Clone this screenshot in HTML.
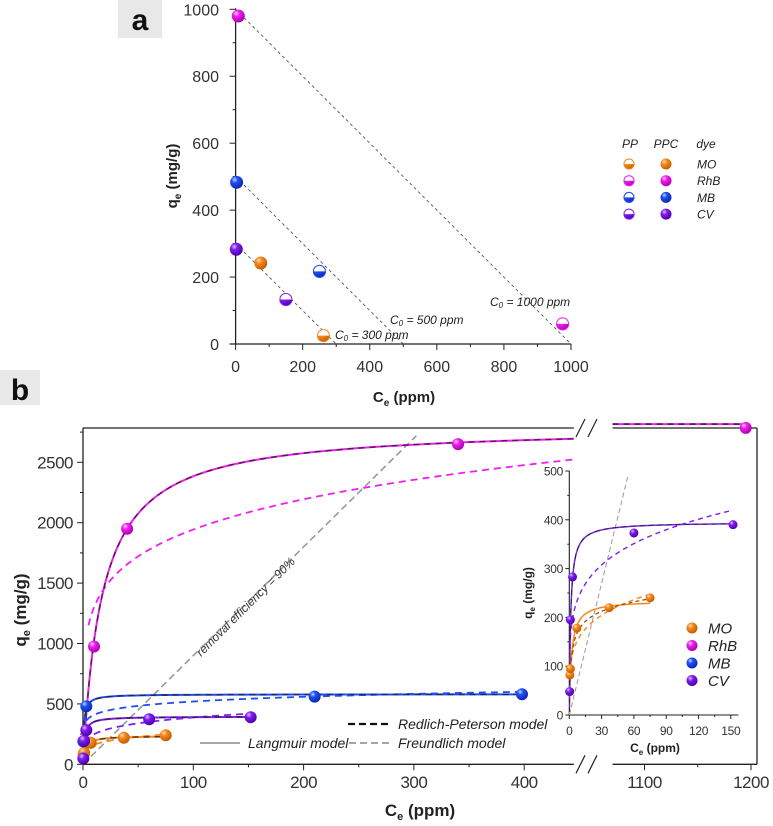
<!DOCTYPE html>
<html><head><meta charset="utf-8"><style>
html,body{margin:0;padding:0;background:#fff;}
svg{display:block;font-family:"Liberation Sans",sans-serif;}
</style></head><body>
<svg id="c" width="773" height="826" viewBox="0 0 773 826" xmlns="http://www.w3.org/2000/svg">
<defs>
<radialGradient id="g-MO" cx="35%" cy="30%" r="70%"><stop offset="0" stop-color="#ffe0bf"/><stop offset="0.35" stop-color="#f7891f"/><stop offset="1" stop-color="#c25e00"/></radialGradient>
<radialGradient id="g-RhB" cx="35%" cy="30%" r="70%"><stop offset="0" stop-color="#ffd0ff"/><stop offset="0.35" stop-color="#f01ff0"/><stop offset="1" stop-color="#b000b0"/></radialGradient>
<radialGradient id="g-MB" cx="35%" cy="30%" r="70%"><stop offset="0" stop-color="#c8d4ff"/><stop offset="0.35" stop-color="#1f4ef5"/><stop offset="1" stop-color="#0a2ab0"/></radialGradient>
<radialGradient id="g-CV" cx="35%" cy="30%" r="70%"><stop offset="0" stop-color="#dcc4ff"/><stop offset="0.35" stop-color="#7f1fef"/><stop offset="1" stop-color="#4f00b0"/></radialGradient>
<clipPath id="clipMain1"><rect x="83" y="425" width="492" height="340"/></clipPath>
<clipPath id="clipInset"><rect x="569" y="470" width="170" height="246"/></clipPath>
</defs>
<g id="root"></g>
</svg>
<script>
// ---------- data: panel a ----------
const aCe_PP  = [262, 975, 250, 150];
const aQe_PP  = [25, 60, 217, 133];
const aCe_PPC = [75, 8, 3, 2];
const aQe_PPC = [242, 980, 483, 283];
const aDyes   = ["MO","RhB","MB","CV"];
const aC0     = [300, 500, 1000];
const aTicks  = [0, 200, 400, 600, 800, 1000];
// ---------- data: panel b ----------
const dyes = ["MO","RhB","MB","CV"];
const ptCe_MO  = [0.5, 1, 7, 37, 75];
const ptQe_MO  = [82, 95, 178, 220, 240];
const ptCe_RhB = [10, 40, 340, 1195];
const ptQe_RhB = [975, 1950, 2650, 2785];
const ptCe_MB  = [0.3, 3, 210, 398];
const ptQe_MB  = [190, 480, 560, 580];
const ptCe_CV  = [0.3, 1, 3, 60, 152];
const ptQe_CV  = [48, 195, 283, 373, 390];
const langQm = [235, 2800, 580, 395];
const langK  = [0.5, 0.0574, 1.2, 0.8];
const langMax = [75, 445, 400, 152];
const frKf = [100, 868, 322, 160];
const frN  = [0.21, 0.175, 0.104, 0.192];
const frMin = [2, 5, 3, 2];
const removalSlope = [9];
const bYTicks = [0, 500, 1000, 1500, 2000, 2500];
const bXTicks1 = [0, 100, 200, 300, 400];
const bXTicks2 = [1100, 1200];
const inXTicks = [0, 30, 60, 90, 120, 150];
const inYTicks = [0, 100, 200, 300, 400, 500];
const colors = {MO:"#f7891f", RhB:"#f01ff0", MB:"#1f4ef5", CV:"#7f1fef"};
const ptsCe = {MO:ptCe_MO, RhB:ptCe_RhB, MB:ptCe_MB, CV:ptCe_CV};
const ptsQe = {MO:ptQe_MO, RhB:ptQe_RhB, MB:ptQe_MB, CV:ptQe_CV};

const NS = "http://www.w3.org/2000/svg";
const root = document.getElementById("root");
function el(tag, attrs, parent, text){
  const e = document.createElementNS(NS, tag);
  for (const k in attrs) e.setAttribute(k, attrs[k]);
  if (text !== undefined) e.textContent = text;
  (parent || root).appendChild(e);
  return e;
}
function grp(name, parent){
  const g = el("g", {}, parent);
  
  
  return g;
}
function sphere(p, x, y, r, dye, name){
  const c = el("circle", {cx:x, cy:y, r:r, fill:"url(#g-"+dye+")"}, p);
  
  
}
function halfSphere(p, x, y, r, dye, name){
  const g = el("g", {}, p);
  
  
  el("circle", {cx:x, cy:y, r:r, fill:"url(#g-"+dye+")"}, g);
  el("path", {d:`M${x-r},${y} A${r},${r} 0 0 1 ${x+r},${y} Z`, fill:"#fff"}, g);
  el("circle", {cx:x, cy:y, r:r-0.5, fill:"none", stroke:colors[dye], "stroke-width":1}, g);
}

// ================= Panel a =================
const ax = v => 235.6 + v * 0.3354;
const ay = v => 344 - v * 0.3347;
const pa = grp("panel-a");
el("rect", {x:118, y:0, width:44, height:38, fill:"#e8e8e8"}, pa);
const la = el("text", {x:140, y:30, "font-size":30, "font-weight":"bold", "text-anchor":"middle", fill:"#111"}, pa, "a");
 
const aAxes = grp("panel-a-axes", pa);
el("line", {x1:ax(0), y1:ay(0), x2:ax(0), y2:ay(1000)-1, stroke:"#222", "stroke-width":1.3}, aAxes);
el("line", {x1:ax(0)-6, y1:ay(0), x2:ax(1000), y2:ay(0), stroke:"#222", "stroke-width":1.3}, aAxes);
for (let v=0; v<=1000; v+=100){
  const major = v % 200 === 0;
  el("line", {x1:ax(0), y1:ay(v), x2:ax(0)-(major?6:3), y2:ay(v), stroke:"#222"}, aAxes);
  el("line", {x1:ax(v), y1:ay(0), x2:ax(v), y2:ay(0)+(major?6:3), stroke:"#222"}, aAxes);
}
aTicks.forEach(v=>{
  const t1 = el("text", {x:219, y:ay(v)+6, "font-size":16, "text-anchor":"end", fill:"#333"}, aAxes, String(v));
   
  const t2 = el("text", {x:ax(v), y:372, "font-size":16, "text-anchor":"middle", fill:"#333"}, aAxes, String(v));
   
});
const ayt = el("text", {transform:"translate(177,176) rotate(-90)", "font-size":15, "font-weight":"bold", "text-anchor":"middle", fill:"#222"}, pa);
ayt.innerHTML = 'q<tspan font-size="10" dy="4">e</tspan><tspan dy="-4"> (mg/g)</tspan>';
 
const axt = el("text", {x:404, y:402, "font-size":15, "font-weight":"bold", "text-anchor":"middle", fill:"#222"}, pa);
axt.innerHTML = 'C<tspan font-size="10" dy="4">e</tspan><tspan dy="-4"> (ppm)</tspan>';
 
aC0.forEach(c0=>{
  const l = el("line", {x1:ax(0), y1:ay(c0), x2:ax(c0), y2:ay(0), stroke:"#555", "stroke-width":0.9, "stroke-dasharray":"3,3"}, pa);
   
});
const c0lab = [[490,306,"1000"],[390,324,"500"],[335,339,"300"]];
c0lab.forEach(d=>{
  const t = el("text", {x:d[0], y:d[1], "font-size":12, "font-style":"italic", fill:"#222"}, pa);
  t.innerHTML = 'C<tspan font-size="8" dy="2">0</tspan><tspan dy="-2"> = '+d[2]+' ppm</tspan>';
   
});
aDyes.forEach((d,i)=>{
  halfSphere(pa, ax(aCe_PP[i]), ay(aQe_PP[i]), 6.5, d, "pp-point-"+d);
  sphere(pa, ax(aCe_PPC[i]), ay(aQe_PPC[i]), 6.5, d, "ppc-point-"+d);
});
const lga = grp("panel-a-legend", pa);
[["PP",630],["PPC",666],["dye",706]].forEach(h=>{
  el("text", {x:h[1], y:148, "font-size":12, "font-style":"italic", "text-anchor":"middle", fill:"#222"}, lga, h[0]);
});
aDyes.forEach((d,i)=>{
  const y = 164 + i*16.7;
  halfSphere(lga, 629, y, 5.5, d, "legend-pp-"+d);
  sphere(lga, 666, y, 5.5, d, "legend-ppc-"+d);
  el("text", {x:697, y:y+4.5, "font-size":12, "font-style":"italic", fill:"#222"}, lga, d);
});

// ================= Panel b =================
const pb = grp("panel-b");
el("rect", {x:0, y:370, width:40, height:35, fill:"#e8e8e8"}, pb);
const lb = el("text", {x:20, y:400, "font-size":30, "font-weight":"bold", "text-anchor":"middle", fill:"#111"}, pb, "b");
 
const bx = v => v <= 500 ? 83 + v*1.103 : 644.5 + (v-1100)*1.065;
const by = v => 764.3 - v*0.1208;
const BRK1 = 445, BRK2 = 1070;
const fr = grp("panel-b-frame", pb);
el("line", {x1:83, y1:by(0), x2:bx(BRK1), y2:by(0), stroke:"#222", "stroke-width":1.3}, fr);
el("line", {x1:bx(BRK2), y1:by(0), x2:757, y2:by(0), stroke:"#222", "stroke-width":1.3}, fr);
el("line", {x1:83, y1:428, x2:bx(BRK1), y2:428, stroke:"#222", "stroke-width":1.3}, fr);
el("line", {x1:bx(BRK2), y1:428, x2:757, y2:428, stroke:"#222", "stroke-width":1.3}, fr);
el("line", {x1:83, y1:428, x2:83, y2:by(0), stroke:"#222", "stroke-width":1.3}, fr);
el("line", {x1:757, y1:428, x2:757, y2:by(0), stroke:"#222", "stroke-width":1.3}, fr);
[428, by(0)].forEach(y=>{
  el("line", {x1:576, y1:y+9, x2:585, y2:y-9, stroke:"#222", "stroke-width":1.2}, fr);
  el("line", {x1:588, y1:y+9, x2:597, y2:y-9, stroke:"#222", "stroke-width":1.2}, fr);
});
for (let v=0; v<=2750; v+=250){
  el("line", {x1:83, y1:by(v), x2:83-(v%500===0?6:3), y2:by(v), stroke:"#222"}, fr);
}
for (let v=0; v<=BRK1; v+=50){
  el("line", {x1:bx(v), y1:by(0), x2:bx(v), y2:by(0)+(v%100===0?6:3), stroke:"#222"}, fr);
}
[1100,1150,1200].forEach(v=>{
  el("line", {x1:bx(v), y1:by(0), x2:bx(v), y2:by(0)+(v%100===0?6:3), stroke:"#222"}, fr);
});
bYTicks.forEach(v=>{
  const t = el("text", {x:73, y:by(v)+6, "font-size":17, "text-anchor":"end", fill:"#333", "letter-spacing":"-0.5"}, fr, String(v));
   
});
bXTicks1.concat(bXTicks2).forEach(v=>{
  const t = el("text", {x:bx(v), y:788, "font-size":17, "text-anchor":"middle", fill:"#333", "letter-spacing":"-0.5"}, fr, String(v));
   
});
const byt = el("text", {transform:"translate(26,610) rotate(-90)", "font-size":17, "font-weight":"bold", "text-anchor":"middle", fill:"#222"}, pb);
byt.innerHTML = 'q<tspan font-size="11" dy="4">e</tspan><tspan dy="-4"> (mg/g)</tspan>';
 
const bxt = el("text", {x:420, y:816, "font-size":17, "font-weight":"bold", "text-anchor":"middle", fill:"#222"}, pb);
bxt.innerHTML = 'C<tspan font-size="11" dy="4">e</tspan><tspan dy="-4"> (ppm)</tspan>';
 

function lang(i, c){ return langQm[i]*langK[i]*c/(1+langK[i]*c); }
function freu(i, c){ return frKf[i]*Math.pow(c, frN[i]); }
function pathFrom(f, c0, c1, X, Y){
  let d = "", n = 160;
  for (let k=0;k<=n;k++){
    const t = k/n;
    const c = c0*Math.pow(c1/c0, t);
    d += (k?"L":"M") + X(c).toFixed(2) + "," + Y(f(c)).toFixed(2);
  }
  return d;
}
const curves = grp("b-curves", pb);
curves.setAttribute("clip-path","url(#clipMain1)");
const rl = el("line", {x1:bx(0), y1:by(0), x2:bx(2720/removalSlope[0]), y2:by(2720), stroke:"#999", "stroke-width":1.6, "stroke-dasharray":"7,4"}, curves);
 
dyes.forEach((d,i)=>{
  const fp = el("path", {d:pathFrom(c=>freu(i,c), frMin[i], langMax[i], bx, by), fill:"none", stroke:colors[d], "stroke-width":1.8, "stroke-dasharray":"7,5"}, curves);
   
  const lp = el("path", {d:pathFrom(c=>lang(i,c), 0.05, langMax[i], bx, by), fill:"none", stroke:colors[d], "stroke-width":2}, curves);
   
  const rp = el("path", {d:pathFrom(c=>lang(i,c), 0.05, langMax[i], bx, by), fill:"none", stroke:"#222", "stroke-width":1.4, "stroke-dasharray":"6,5", opacity:0.8}, curves);
   
});
const seg2 = el("line", {x1:bx(BRK2), y1:by(lang(1,1100)+60), x2:bx(1195), y2:by(lang(1,1100)+60), stroke:colors.RhB, "stroke-width":2}, pb);
 
el("line", {x1:bx(BRK2), y1:by(lang(1,1100)+60), x2:bx(1195), y2:by(lang(1,1100)+60), stroke:"#222", "stroke-width":1.4, "stroke-dasharray":"6,5"}, pb);
const rt = el("text", {transform:`translate(${bx(150)},${by(1280)}) rotate(-45)`, "font-size":12, "font-style":"italic", "text-anchor":"middle", fill:"#333"}, pb, "removal efficiency = 90%");
 
const pts = grp("b-points", pb);
dyes.forEach(d=>{
  ptsCe[d].forEach((c,k)=>{ sphere(pts, bx(c), by(ptsQe[d][k]), 6, d, "point-"+d); });
});
const ml = grp("model-legend", pb);
el("line", {x1:348, y1:724, x2:390, y2:724, stroke:"#111", "stroke-width":2.2, "stroke-dasharray":"7,4"}, ml);
el("text", {x:398, y:729, "font-size":14, "font-style":"italic", fill:"#222"}, ml, "Redlich-Peterson model");
el("line", {x1:200, y1:743, x2:240, y2:743, stroke:"#999", "stroke-width":1.8}, ml);
el("text", {x:248, y:748, "font-size":14, "font-style":"italic", fill:"#222"}, ml, "Langmuir model");
el("line", {x1:349, y1:743, x2:390, y2:743, stroke:"#999", "stroke-width":1.8, "stroke-dasharray":"7,4"}, ml);
el("text", {x:398, y:748, "font-size":14, "font-style":"italic", fill:"#222"}, ml, "Freundlich model");

// ================= Inset =================
const ix = v => 569.3 + v*1.077;
const iy = v => 715 - v*0.488;
const ins = grp("inset-chart", pb);
el("line", {x1:ix(0), y1:iy(0), x2:ix(0), y2:iy(500), stroke:"#222", "stroke-width":1.1}, ins);
el("line", {x1:ix(0), y1:iy(0), x2:ix(157), y2:iy(0), stroke:"#222", "stroke-width":1.1}, ins);
for (let v=0; v<=500; v+=50) el("line", {x1:ix(0), y1:iy(v), x2:ix(0)-(v%100===0?4:2), y2:iy(v), stroke:"#222"}, ins);
for (let v=0; v<=150; v+=15) el("line", {x1:ix(v), y1:iy(0), x2:ix(v), y2:iy(0)+(v%30===0?4:2), stroke:"#222"}, ins);
inYTicks.forEach(v=>{
  const t = el("text", {x:563, y:iy(v)+4.5, "font-size":12, "text-anchor":"end", fill:"#333", "letter-spacing":"-0.3"}, ins, String(v));
   
});
inXTicks.forEach(v=>{
  const t = el("text", {x:ix(v), y:735, "font-size":12, "text-anchor":"middle", fill:"#333", "letter-spacing":"-0.3"}, ins, String(v));
   
});
const iyt = el("text", {transform:"translate(532,593) rotate(-90)", "font-size":12, "font-weight":"bold", "text-anchor":"middle", fill:"#222"}, ins);
iyt.innerHTML = 'q<tspan font-size="8" dy="3">e</tspan><tspan dy="-3"> (mg/g)</tspan>';
 
const ixt = el("text", {x:655, y:752, "font-size":12, "font-weight":"bold", "text-anchor":"middle", fill:"#222"}, ins);
ixt.innerHTML = 'C<tspan font-size="8" dy="3">e</tspan><tspan dy="-3"> (ppm)</tspan>';
 
const ic = grp("inset-curves", ins);
ic.setAttribute("clip-path","url(#clipInset)");
el("line", {x1:ix(0), y1:iy(0), x2:ix(490/removalSlope[0]), y2:iy(490), stroke:"#999", "stroke-width":1, "stroke-dasharray":"5,3"}, ic);
[0,3].forEach(i=>{
  const d = dyes[i];
  el("path", {d:pathFrom(c=>freu(i,c), 0.5, langMax[i]*1.0, ix, iy), fill:"none", stroke:colors[d], "stroke-width":1.4, "stroke-dasharray":"5,4"}, ic);
  el("path", {d:pathFrom(c=>lang(i,c), 0.02, langMax[i], ix, iy), fill:"none", stroke:colors[d], "stroke-width":1.5}, ic);
  if (i===0) el("path", {d:pathFrom(c=>0.5*(lang(i,c)+freu(i,c)), 0.5, langMax[i], ix, iy), fill:"none", stroke:"#8a4a10", "stroke-width":1.2, "stroke-dasharray":"4,3"}, ic);
  else el("path", {d:pathFrom(c=>lang(i,c), 0.02, langMax[i], ix, iy), fill:"none", stroke:"#222", "stroke-width":1.1, "stroke-dasharray":"5,4", opacity:0.8}, ic);
});
["MO","CV"].forEach(d=>{
  ptsCe[d].forEach((c,k)=>{ sphere(ins, ix(c), iy(ptsQe[d][k]), 4.5, d, "inset-point-"+d); });
});
const il = grp("dye-legend", ins);
dyes.forEach((d,i)=>{
  const y = 628 + i*17.5;
  sphere(il, 692, y, 5.5, d, "legend-marker-"+d);
  el("text", {x:708, y:y+5.5, "font-size":15, "font-style":"italic", fill:"#222"}, il, d);
});
</script>
</body></html>
